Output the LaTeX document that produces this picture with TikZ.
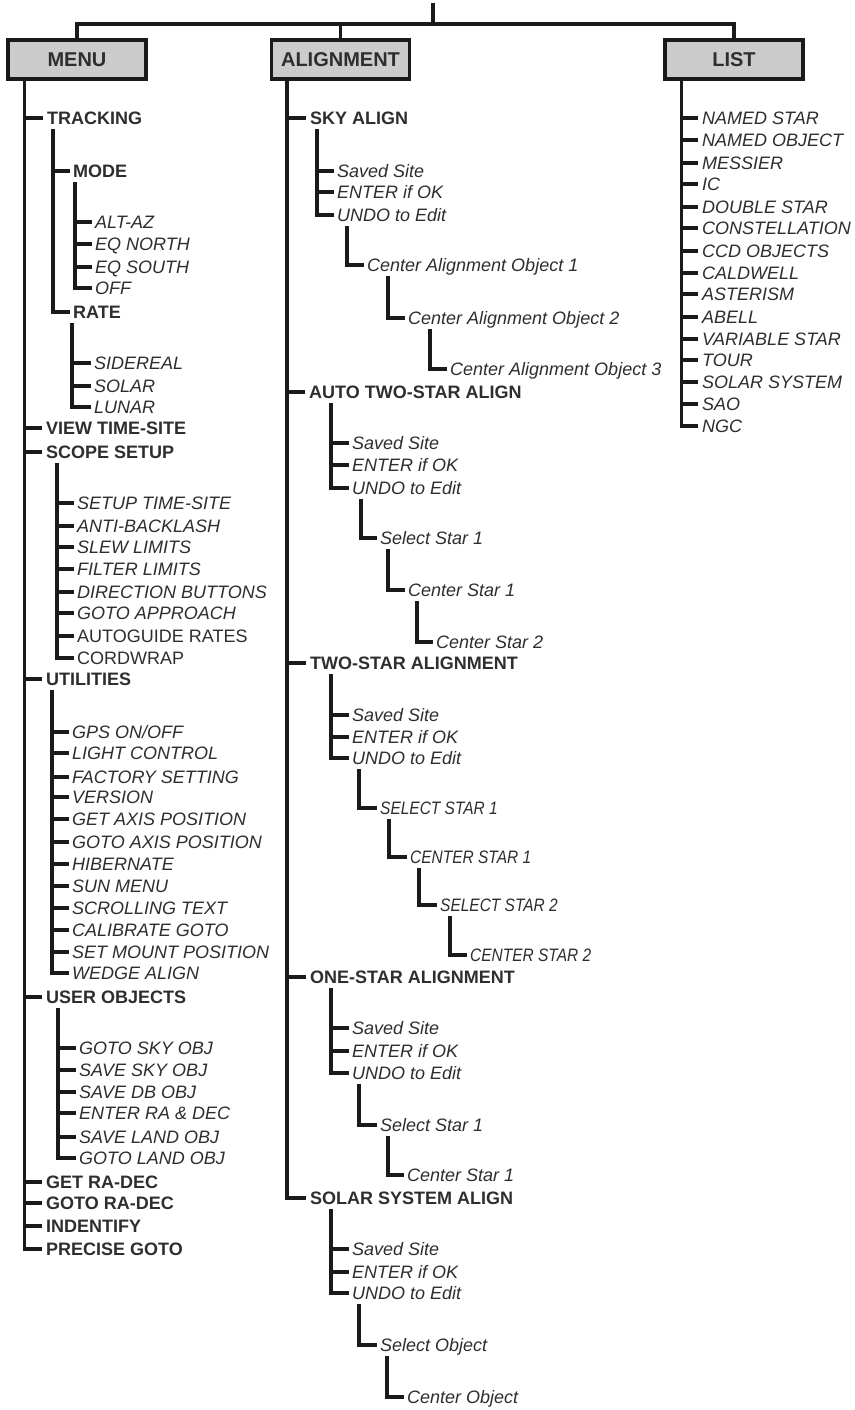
\documentclass[tikz,border=0pt]{standalone}
\usepackage{fontspec}
\setmainfont{Liberation Sans}
\newfontfamily\narrowfont[FakeStretch=0.86]{Liberation Sans}
\definecolor{linec}{HTML}{1A1A1A}
\definecolor{txtc}{HTML}{2E2E2E}
\definecolor{boxfill}{HTML}{CCCCCC}
\newcommand{\lk}[3]{\draw[conn] (#1.west) ++(#2,11) |- ([xshift=-3pt]#3.west);}
\newcommand{\tk}[3]{\draw[conn] ([xshift=#2pt]#1.south west) |- ([xshift=-4pt]#3.west);}
\begin{document}
\begin{tikzpicture}[x=1pt,y=-1pt,
  conn/.style={draw=linec, line width=3.1pt},
  itm/.style={anchor=west, inner sep=0pt, text height=12.9pt, text depth=0pt, text=txtc},
  hd/.style={itm, font=\fontsize{18}{21}\selectfont\bfseries},
  ital/.style={itm, font=\fontsize{18}{21}\selectfont\itshape},
  upr/.style={itm, font=\fontsize{18}{21}\selectfont},
  nar/.style={itm, font=\fontsize{18}{21}\selectfont\narrowfont\itshape},
  boxst/.style={draw=linec, fill=boxfill, line width=3.1pt, minimum width=138pt, minimum height=39pt, inner sep=0pt, text=txtc, font=\fontsize{20}{24}\selectfont\bfseries}]
\useasboundingbox (0,0) rectangle (854,1410);
\fill[white] (0,0) rectangle (854,1410);

% header boxes
\node[boxst] (menu) at (77,59.5) {MENU};
\node[boxst] (align) at (340.5,59.5) {ALIGNMENT};
\node[boxst] (list) at (734,59.5) {LIST};
\coordinate (topend) at (433,3);
\coordinate (hub) at (433,24);
\draw[conn] (topend) -- (hub);
\draw[conn] (menu.north) |- (list.north |- hub) -- (list.north);
\draw[conn] (align.north) -- (align.north |- hub);

% ===== MENU column =====
\node[hd] (trk) at (47,118) {TRACKING};
\node[hd] (mode) at (73,171) {MODE};
\node[ital] (altaz) at (95,222) {ALT-AZ};
\node[ital] (eqn) at (95,244) {EQ NORTH};
\node[ital] (eqs) at (95,267) {EQ SOUTH};
\node[ital] (off) at (95,288) {OFF};
\node[hd] (rate) at (73,312) {RATE};
\node[ital] (sid) at (94,363) {SIDEREAL};
\node[ital] (rsol) at (94,386) {SOLAR};
\node[ital] (lun) at (94,407) {LUNAR};
\node[hd] (vts) at (46,428) {VIEW TIME-SITE};
\node[hd] (scope) at (46,452) {SCOPE SETUP};
\node[ital] (s1) at (77,503) {SETUP TIME-SITE};
\node[ital] (s2) at (77,526) {ANTI-BACKLASH};
\node[ital] (s3) at (77,547) {SLEW LIMITS};
\node[ital] (s4) at (77,569) {FILTER LIMITS};
\node[ital] (s5) at (77,592) {DIRECTION BUTTONS};
\node[ital] (s6) at (77,613) {GOTO APPROACH};
\node[upr] (s7) at (77,636) {AUTOGUIDE RATES};
\node[upr] (s8) at (77,658) {CORDWRAP};
\node[hd] (util) at (46,679) {UTILITIES};
\node[ital] (u1) at (72,732) {GPS ON/OFF};
\node[ital] (u2) at (72,753) {LIGHT CONTROL};
\node[ital] (u3) at (72,777) {FACTORY SETTING};
\node[ital] (u4) at (72,797) {VERSION};
\node[ital] (u5) at (72,819) {GET AXIS POSITION};
\node[ital] (u6) at (72,842) {GOTO AXIS POSITION};
\node[ital] (u7) at (72,864) {HIBERNATE};
\node[ital] (u8) at (72,886) {SUN MENU};
\node[ital] (u9) at (72,908) {SCROLLING TEXT};
\node[ital] (u10) at (72,930) {CALIBRATE GOTO};
\node[ital] (u11) at (72,952) {SET MOUNT POSITION};
\node[ital] (u12) at (72,973) {WEDGE ALIGN};
\node[hd] (uobj) at (46,997) {USER OBJECTS};
\node[ital] (o1) at (79,1048) {GOTO SKY OBJ};
\node[ital] (o2) at (79,1070) {SAVE SKY OBJ};
\node[ital] (o3) at (79,1092) {SAVE DB OBJ};
\node[ital] (o4) at (79,1113) {ENTER RA \& DEC};
\node[ital] (o5) at (79,1137) {SAVE LAND OBJ};
\node[ital] (o6) at (79,1158) {GOTO LAND OBJ};
\node[hd] (grd) at (46,1182) {GET RA-DEC};
\node[hd] (gtr) at (46,1203) {GOTO RA-DEC};
\node[hd] (idf) at (46,1226) {INDENTIFY};
\node[hd] (pg) at (46,1249) {PRECISE GOTO};

\foreach \c in {trk,vts,scope,util,uobj,grd,gtr,idf,pg} {\tk{menu}{18}{\c}}
\foreach \c in {mode,rate} {\lk{trk}{6}{\c}}
\foreach \c in {altaz,eqn,eqs,off} {\lk{mode}{2}{\c}}
\foreach \c in {sid,rsol,lun} {\lk{rate}{-1}{\c}}
\foreach \c in {s1,s2,s3,s4,s5,s6,s7,s8} {\lk{scope}{11}{\c}}
\foreach \c in {u1,u2,u3,u4,u5,u6,u7,u8,u9,u10,u11,u12} {\lk{util}{6}{\c}}
\foreach \c in {o1,o2,o3,o4,o5,o6} {\lk{uobj}{12}{\c}}

% ===== ALIGNMENT column =====
\node[hd] (sky) at (310,118) {SKY ALIGN};
\node[ital] (a1) at (337,171) {Saved Site};
\node[ital] (a2) at (337,192) {ENTER if OK};
\node[ital] (a3) at (337,215) {UNDO to Edit};
\node[ital] (cao1) at (367,265) {Center Alignment Object 1};
\node[ital] (cao2) at (408,318) {Center Alignment Object 2};
\node[ital] (cao3) at (450,369) {Center Alignment Object 3};
\node[hd] (auto) at (309,392) {AUTO TWO-STAR ALIGN};
\node[ital] (b1) at (352,443) {Saved Site};
\node[ital] (b2) at (352,465) {ENTER if OK};
\node[ital] (b3) at (352,488) {UNDO to Edit};
\node[ital] (bs1) at (380,538) {Select Star 1};
\node[ital] (bc1) at (408,590) {Center Star 1};
\node[ital] (bc2) at (436,642) {Center Star 2};
\node[hd] (two) at (310,663) {TWO-STAR ALIGNMENT};
\node[ital] (c1) at (352,715) {Saved Site};
\node[ital] (c2) at (352,737) {ENTER if OK};
\node[ital] (c3) at (352,758) {UNDO to Edit};
\node[nar] (cs1) at (380,808) {SELECT STAR 1};
\node[nar] (cc1) at (410,857) {CENTER STAR 1};
\node[nar] (cs2) at (440,905) {SELECT STAR 2};
\node[nar] (cc2) at (470,955) {CENTER STAR 2};
\node[hd] (one) at (310,977) {ONE-STAR ALIGNMENT};
\node[ital] (d1) at (352,1028) {Saved Site};
\node[ital] (d2) at (352,1051) {ENTER if OK};
\node[ital] (d3) at (352,1073) {UNDO to Edit};
\node[ital] (ds1) at (380,1125) {Select Star 1};
\node[ital] (dc1) at (407,1175) {Center Star 1};
\node[hd] (solar) at (310,1198) {SOLAR SYSTEM ALIGN};
\node[ital] (e1) at (352,1249) {Saved Site};
\node[ital] (e2) at (352,1272) {ENTER if OK};
\node[ital] (e3) at (352,1293) {UNDO to Edit};
\node[ital] (es) at (380,1345) {Select Object};
\node[ital] (ec) at (407,1397) {Center Object};

\foreach \c in {sky,auto,two,one,solar} {\tk{align}{17}{\c}}
\foreach \c in {a1,a2,a3} {\lk{sky}{7}{\c}}
\lk{a3}{10}{cao1}
\lk{cao1}{21}{cao2}
\lk{cao2}{22}{cao3}
\foreach \c in {b1,b2,b3} {\lk{auto}{22}{\c}}
\lk{b3}{9}{bs1}
\lk{bs1}{8}{bc1}
\lk{bc1}{9}{bc2}
\foreach \c in {c1,c2,c3} {\lk{two}{21}{\c}}
\lk{c3}{7}{cs1}
\lk{cs1}{9}{cc1}
\lk{cc1}{9}{cs2}
\lk{cs2}{10}{cc2}
\foreach \c in {d1,d2,d3} {\lk{one}{21}{\c}}
\lk{d3}{7}{ds1}
\lk{ds1}{8}{dc1}
\foreach \c in {e1,e2,e3} {\lk{solar}{21}{\c}}
\lk{e3}{7}{es}
\lk{es}{7}{ec}

% ===== LIST column =====
\node[ital] (l1) at (702,118) {NAMED STAR};
\node[ital] (l2) at (702,140) {NAMED OBJECT};
\node[ital] (l3) at (702,163) {MESSIER};
\node[ital] (l4) at (702,184) {IC};
\node[ital] (l5) at (702,207) {DOUBLE STAR};
\node[ital] (l6) at (702,228) {CONSTELLATION};
\node[ital] (l7) at (702,251) {CCD OBJECTS};
\node[ital] (l8) at (702,273) {CALDWELL};
\node[ital] (l9) at (702,294) {ASTERISM};
\node[ital] (l10) at (702,317) {ABELL};
\node[ital] (l11) at (702,339) {VARIABLE STAR};
\node[ital] (l12) at (702,360) {TOUR};
\node[ital] (l13) at (702,382) {SOLAR SYSTEM};
\node[ital] (l14) at (702,404) {SAO};
\node[ital] (l15) at (702,426) {NGC};
\foreach \c in {l1,l2,l3,l4,l5,l6,l7,l8,l9,l10,l11,l12,l13,l14,l15} {\tk{list}{18}{\c}}
\end{tikzpicture}
\end{document}
